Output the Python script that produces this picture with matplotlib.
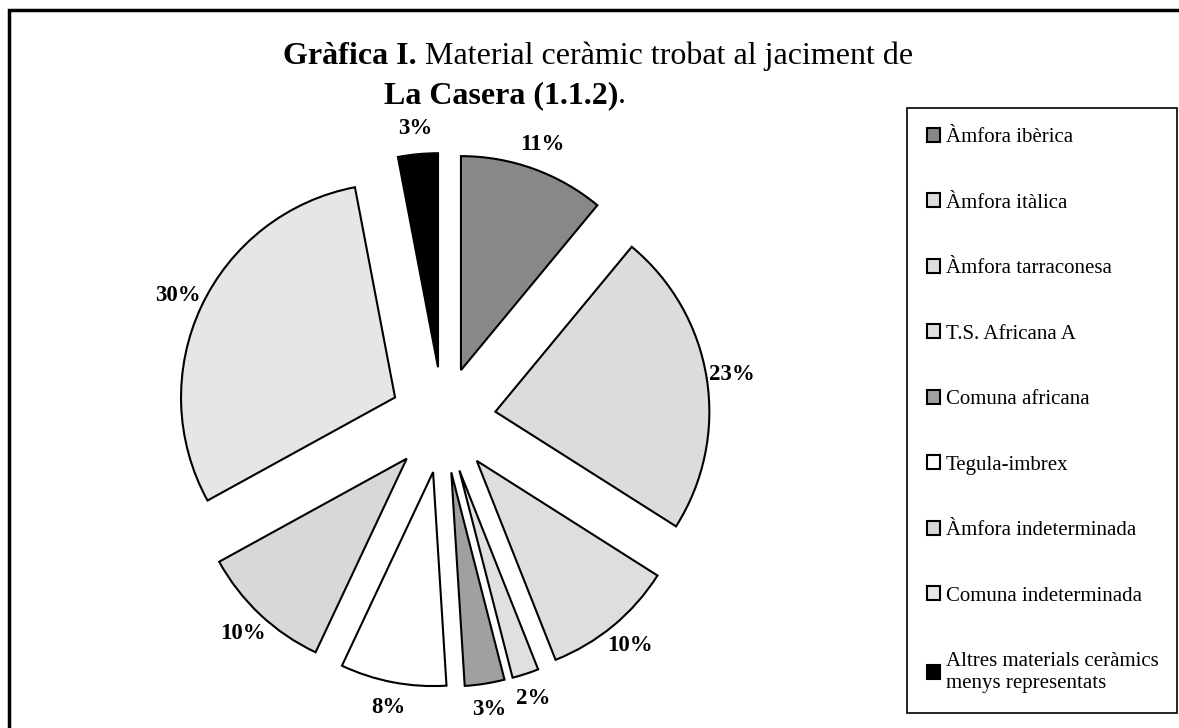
import matplotlib
matplotlib.use("Agg")
import matplotlib.pyplot as plt
from matplotlib.patches import Rectangle

W, H = 1179, 728

materials = ["Àmfora ibèrica", "Àmfora itàlica", "Àmfora tarraconesa",
             "T.S. Africana A", "Comuna africana", "Tegula-imbrex",
             "Àmfora indeterminada", "Comuna indeterminada",
             "Altres materials ceràmics\nmenys representats"]
percents = [11, 23, 10, 2, 3, 8, 10, 30, 3]
colors = ["#888888", "#dcdcdc", "#dedede", "#e0e0e0", "#a0a0a0",
          "#ffffff", "#d8d8d8", "#e6e6e6", "#000000"]

plt.rcParams['font.family'] = ['Liberation Serif', 'DejaVu Serif']

fig = plt.figure(figsize=(W / 100, H / 100), dpi=100)
fig.patch.set_facecolor("white")

# axes in pixel units so the pie can be placed directly
ax = fig.add_axes([0, 0, 1, 1])
wedges, _, pct_texts = ax.pie(
    percents, colors=colors, startangle=90, counterclock=False,
    explode=[53] * len(percents), radius=214, center=(443, H - 420),
    autopct="%1.0f%%", pctdistance=1.12, frame=True,
    wedgeprops=dict(edgecolor="black", linewidth=1.5))
for t in pct_texts:
    t.set_fontsize(16.5)
    t.set_fontweight("bold")
ax.set_xlim(0, W)
ax.set_ylim(0, H)
ax.axis("off")

# outer frame (only left and top edges visible)
fig.add_artist(Rectangle((9 / W, -0.05), 1.2, 1.05 - 10 / H,
                         transform=fig.transFigure, fill=False,
                         edgecolor="black", linewidth=2.5))

# title, two lines, bold + regular pieces
t1 = fig.text(913 / W, 1 - 64 / H, " Material ceràmic trobat al jaciment de",
              ha="right", va="baseline", fontsize=23)
ax.annotate("Gràfica I.", xy=(0, 0), xycoords=t1, ha="right", va="bottom",
            fontsize=23, fontweight="bold", annotation_clip=False)
t2 = fig.text(384 / W, 1 - 103 / H, "La Casera (1.1.2)", ha="left",
              va="baseline", fontsize=23, fontweight="bold")
ax.annotate(".", xy=(1, 0), xycoords=t2, ha="left", va="bottom",
            fontsize=23, annotation_clip=False)

leg = fig.legend(wedges, materials, loc="upper left",
                 bbox_to_anchor=(907 / W, 1 - 713 / H, 270 / W, 605 / H),
                 mode="expand", borderaxespad=0, fancybox=False,
                 edgecolor="black", framealpha=1, borderpad=0.95,
                 handlelength=0.65, handleheight=0.65, handletextpad=0.25,
                 labelspacing=2.22, prop={"size": 15})
leg.get_frame().set_linewidth(1.2)

fig.savefig("out.png", dpi=100)
